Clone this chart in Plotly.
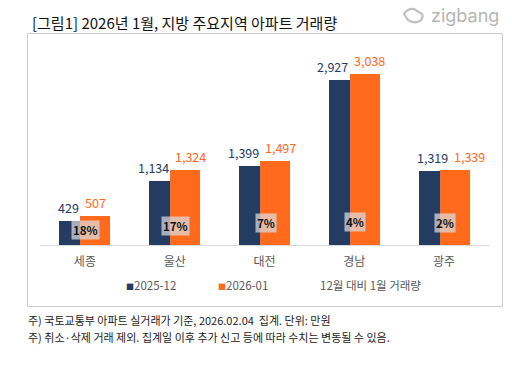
import plotly.graph_objects as go

# ---- data ----
categories = ["세종", "울산", "대전", "경남", "광주"]
dec_2025 = [429, 1134, 1399, 2927, 1319]
jan_2026 = [507, 1324, 1497, 3038, 1339]
pct_labels = ["18%", "17%", "7%", "4%", "2%"]
series_names = ["2025-12", "2026-01"]
pct_name = "12월 대비 1월 거래량"
title_text = "[그림1] 2026년 1월, 지방 주요지역 아파트 거래량"
notes = ["주) 국토교통부 아파트 실거래가 기준, 2026.02.04  집계. 단위: 만원",
         "주) 취소·삭제 거래 제외. 집계일 이후 추가 신고 등에 따라 수치는 변동될 수 있음."]

# ---- style ----
NAVY = "#243c62"
ORANGE = "#ff6a1c"
FONT = "Noto Sans CJK KR"
W, H = 512, 366
L, R, T, B = 40, 23, 48, 121
PW, PH = W - L - R, H - T - B

def px(x):
    return (x - L) / PW

def py(y):
    return (H - B - y) / PH

label_nudge = [0, 0, 0, 0, 10]
pct_shift = [15, 19, 22, 23, 22]

fig = go.Figure()
fig.add_trace(go.Bar(x=categories, y=dec_2025, name=series_names[0],
                     marker=dict(color=NAVY, line=dict(width=0)),
                     offset=-0.284, width=0.334, showlegend=False))
fig.add_trace(go.Bar(x=categories, y=jan_2026, name=series_names[1],
                     marker=dict(color=ORANGE, line=dict(width=0)),
                     offset=-0.05, width=0.334, showlegend=False))

ann = []
for i, c in enumerate(categories):
    ann.append(dict(x=c, y=dec_2025[i], xref="x", yref="y", text=f"{dec_2025[i]:,}",
                    showarrow=False, xanchor="right", yanchor="bottom",
                    xshift=-4 + label_nudge[i], yshift=2,
                    font=dict(family=FONT, size=12.5, color=NAVY)))
    ann.append(dict(x=c, y=jan_2026[i], xref="x", yref="y", text=f"{jan_2026[i]:,}",
                    showarrow=False, xanchor="left", yanchor="bottom",
                    xshift=-2 + label_nudge[i], yshift=2,
                    font=dict(family=FONT, size=12.5, color=ORANGE)))
    ann.append(dict(x=c, y=0, xref="x", yref="y", text=f"<b>{pct_labels[i]}</b>",
                    showarrow=False, xanchor="center", yanchor="middle",
                    xshift=1, yshift=pct_shift[i], bgcolor="rgba(220,220,220,0.72)",
                    borderpad=1, font=dict(family=FONT, size=11.5, color="#111111")))

# title
ann.append(dict(x=px(30), y=py(22), xref="paper", yref="paper", text=title_text,
                showarrow=False, xanchor="left", yanchor="middle",
                font=dict(family=FONT, size=15, color="#111111")))
# logo
ann.append(dict(x=px(501), y=py(16), xref="paper", yref="paper", text="zigbang",
                showarrow=False, xanchor="right", yanchor="middle",
                font=dict(family="Inter", size=18, color="#b5b5b5")))
# legend
ann.append(dict(x=px(124), y=py(285), xref="paper", yref="paper",
                text=f'<span style="font-size:8px;color:{NAVY}">■</span>{series_names[0]}',
                showarrow=False, xanchor="left", yanchor="middle",
                font=dict(family=FONT, size=11.5, color="#595959")))
ann.append(dict(x=px(216), y=py(285), xref="paper", yref="paper",
                text=f'<span style="font-size:8px;color:{ORANGE}">■</span>{series_names[1]}',
                showarrow=False, xanchor="left", yanchor="middle",
                font=dict(family=FONT, size=11.5, color="#595959")))
ann.append(dict(x=px(318), y=py(285), xref="paper", yref="paper", text=pct_name,
                showarrow=False, xanchor="left", yanchor="middle",
                font=dict(family=FONT, size=11.5, color="#595959")))
# notes
for k, n in enumerate(notes):
    ann.append(dict(x=px(26), y=py(320 + 17 * k), xref="paper", yref="paper", text=n,
                    showarrow=False, xanchor="left", yanchor="middle",
                    font=dict(family=FONT, size=11, color="#222222")))

shapes = [
    dict(type="rect", xref="paper", yref="paper", x0=px(27.5), x1=px(502.5), y0=py(306.5), y1=py(33.5),
         line=dict(color="#cccccc", width=1), fillcolor="rgba(0,0,0,0)", layer="above"),
    # logo icon (rounded diamond outline)
    dict(type="path", xref="paper", yref="paper",
         path=(f"M {px(404)},{py(14)} Q {px(408)},{py(8)} {px(414)},{py(9)} "
               f"L {px(422)},{py(14)} Q {px(424)},{py(17)} {px(420)},{py(21)} "
               f"Q {px(414)},{py(24)} {px(408)},{py(20)} Z"),
         line=dict(color="#c0c0c0", width=2.2), fillcolor="rgba(0,0,0,0)"),
]

fig.update_layout(
    width=W, height=H, margin=dict(l=L, r=R, t=T, b=B),
    paper_bgcolor="white", plot_bgcolor="white",
    barmode="overlay", bargap=0,
    showlegend=False,
    font=dict(family=FONT),
    xaxis=dict(range=[-0.5, 4.5], showline=True, linecolor="#d9d9d9", linewidth=1, ticks="",
               ticklabelstandoff=6,
               tickfont=dict(family=FONT, size=12, color="#595959"), showgrid=False,
               fixedrange=True),
    yaxis=dict(range=[0, 3500], visible=False, showgrid=False, fixedrange=True),
    annotations=ann, shapes=shapes,
)

fig.write_html("out.html", config={"displayModeBar": False},
               post_script="document.body.style.margin='0';document.body.style.padding='0';")
